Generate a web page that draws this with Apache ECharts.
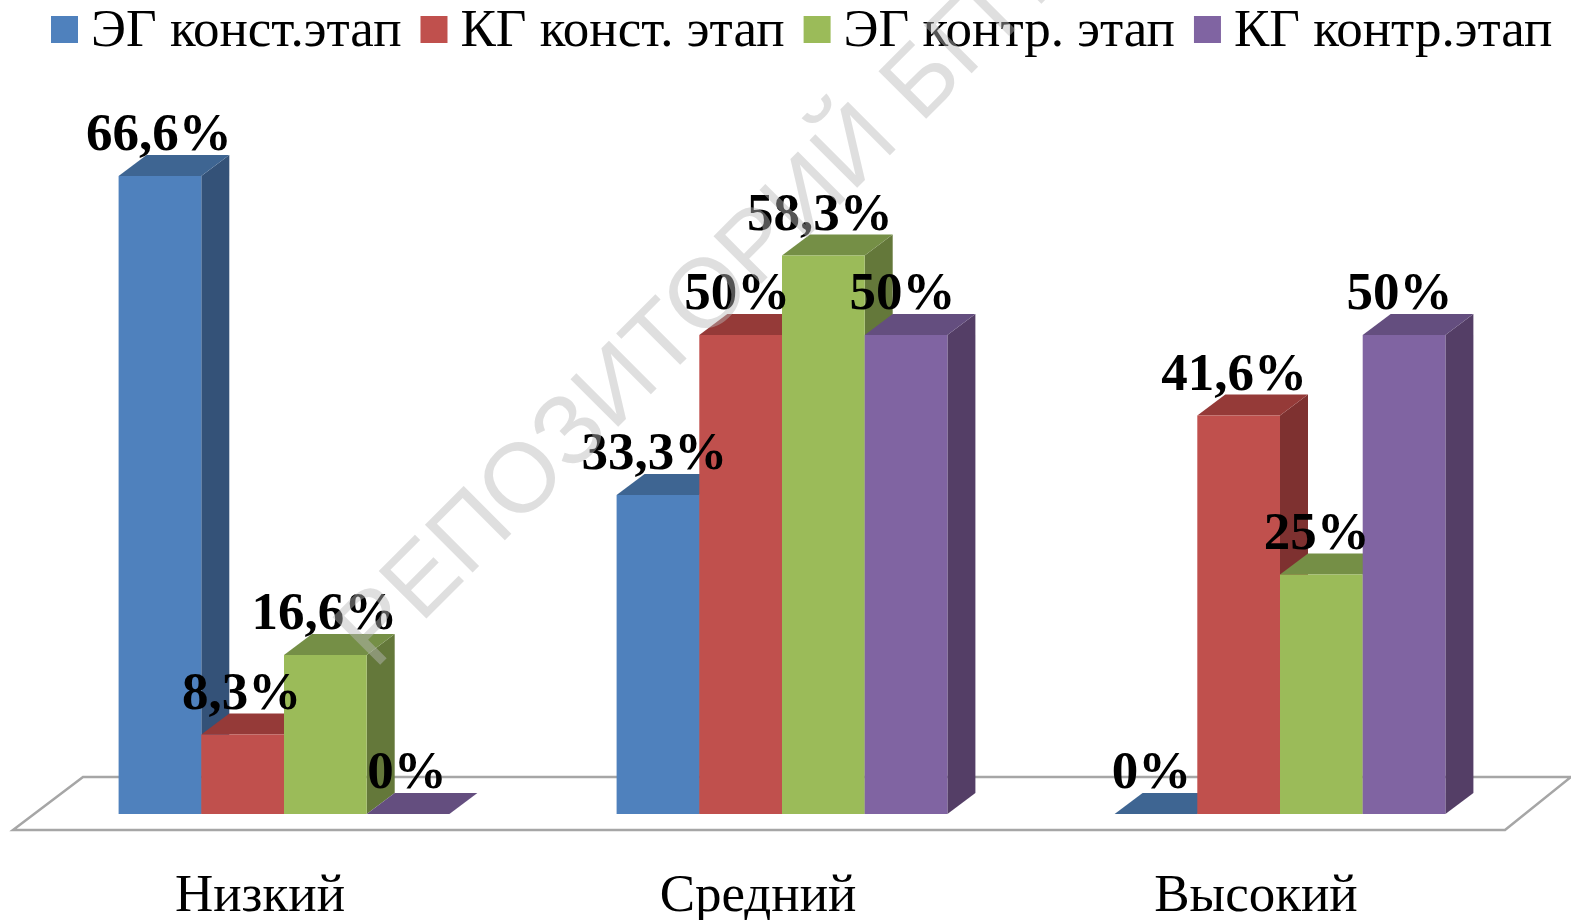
<!DOCTYPE html>
<html>
<head>
<meta charset="utf-8">
<style>
  html, body { margin: 0; padding: 0; background: #fff; }
  #chart { width: 1571px; height: 920px; }
</style>
<script src="https://cdn.jsdelivr.net/npm/echarts@6/dist/echarts.min.js"></script>
</head>
<body>
<div id="chart"></div>
<script>
  var categories = ['Низкий', 'Средний', 'Высокий'];
  var seriesNames = ['ЭГ конст.этап', 'КГ конст. этап', 'ЭГ контр. этап', 'КГ контр.этап'];
  var egConst = [66.6, 33.3, 0];
  var kgConst = [8.3, 50, 41.6];
  var egContr = [16.6, 58.3, 25];
  var kgContr = [0, 50, 50];

  var faceColors = ['#4f81bd', '#c0504d', '#9bbb59', '#8064a2'];
  var topColors = ['#3e6592', '#953a38', '#758f46', '#644e7f'];
  var sideColors = ['#345278', '#7e3130', '#64783a', '#543e66'];

  var fontFamily = '"Liberation Serif", "Times New Roman", serif';
  var depthX = 28, depthY = 21, barWidth = 82.7;
  var labelShift = [-1, -3.5, -4.5];

  function percentLabel(v) {
    return String(v).replace('.', ',') + '%';
  }

  // столбик с псевдо-3D гранями
  function renderBar(s) {
    return function (params, api) {
      var idx = api.value(0);
      var val = api.value(1);
      var center = api.coord([idx, 0]);
      var top = api.coord([idx, val]);
      var x0 = center[0] + (s - 2) * barWidth;
      var x1 = x0 + barWidth;
      var y0 = center[1];
      var y1 = top[1];
      var children = [];
      if (val > 0) {
        children.push({
          type: 'polygon', z2: s * 3 + 1,
          shape: { points: [[x1, y0], [x1 + depthX, y0 - depthY], [x1 + depthX, y1 - depthY], [x1, y1]] },
          style: { fill: sideColors[s] }
        });
        children.push({
          type: 'rect', z2: s * 3 + 3,
          shape: { x: x0, y: y1, width: barWidth, height: y0 - y1 },
          style: { fill: faceColors[s] }
        });
      }
      children.push({
        type: 'polygon', z2: s * 3 + 2,
        shape: { points: [[x0, y1], [x0 + depthX, y1 - depthY], [x1 + depthX, y1 - depthY], [x1, y1]] },
        style: { fill: topColors[s] }
      });
      children.push({
        type: 'text', z2: 100,
        style: {
          text: percentLabel(val),
          x: (x0 + x1) / 2 + labelShift[idx],
          y: y1 - 13,
          align: 'center',
          verticalAlign: 'bottom',
          font: 'bold 53px ' + fontFamily,
          fill: '#000'
        }
      });
      return { type: 'group', children: children };
    };
  }

  // серая плоскость пола
  function renderFloor(params, api) {
    var base = api.coord([0, 0])[1];
    var cs = params.coordSys;
    return {
      type: 'polygon',
      z2: 0,
      shape: {
        points: [
          [cs.x - 22, base + 16],
          [cs.x + 48, base - 37],
          [cs.x + cs.width + 42, base - 37],
          [cs.x + cs.width - 24, base + 16]
        ]
      },
      style: { fill: '#fff', stroke: '#a6a6a6', lineWidth: 2.5 }
    };
  }

  function barSeries(name, values, s) {
    return {
      name: name,
      type: 'custom',
      renderItem: renderBar(s),
      itemStyle: { color: faceColors[s] },
      encode: { x: 0, y: 1 },
      data: values.map(function (v, i) { return [i, v]; }),
      clip: false
    };
  }

  var chart = echarts.init(document.getElementById('chart'));
  chart.setOption({
    animation: false,
    backgroundColor: '#fff',
    legend: {
      top: 1,
      left: 46,
      itemWidth: 27,
      itemHeight: 27,
      itemGap: 19,
      icon: 'rect',
      data: seriesNames,
      formatter: '{t|{name}}',
      textStyle: {
        padding: [0, 0, 0, 8],
        rich: {
          t: { fontFamily: fontFamily, fontSize: 53, color: '#000', padding: [6, 0, 0, 0] }
        }
      }
    },
    grid: { left: 35, width: 1494, top: 65, bottom: 106, outerBoundsMode: 'none' },
    xAxis: {
      type: 'category',
      data: categories,
      axisLine: { show: false },
      axisTick: { show: false },
      axisLabel: { fontFamily: fontFamily, fontSize: 53, color: '#000', margin: 57, padding: [0, 48, 0, 0] }
    },
    yAxis: {
      type: 'value',
      min: 0,
      max: 78.2,
      show: false,
      splitLine: { show: false }
    },
    series: [
      {
        type: 'custom',
        renderItem: renderFloor,
        data: [[0, 0]],
        encode: { x: 0, y: 1 },
        silent: true,
        clip: false
      },
      barSeries(seriesNames[0], egConst, 0),
      barSeries(seriesNames[1], kgConst, 1),
      barSeries(seriesNames[2], egContr, 2),
      barSeries(seriesNames[3], kgContr, 3)
    ],
    graphic: [{
      type: 'text',
      z: 50,
      silent: true,
      x: 390,
      y: 686,
      rotation: Math.PI / 4,
      style: {
        text: 'РЕПОЗИТОРИЙ БГПУ',
        font: '98px "Liberation Sans", Arial, sans-serif',
        fill: 'rgba(185,185,185,0.46)',
        verticalAlign: 'bottom'
      }
    }]
  });
</script>
</body>
</html>
